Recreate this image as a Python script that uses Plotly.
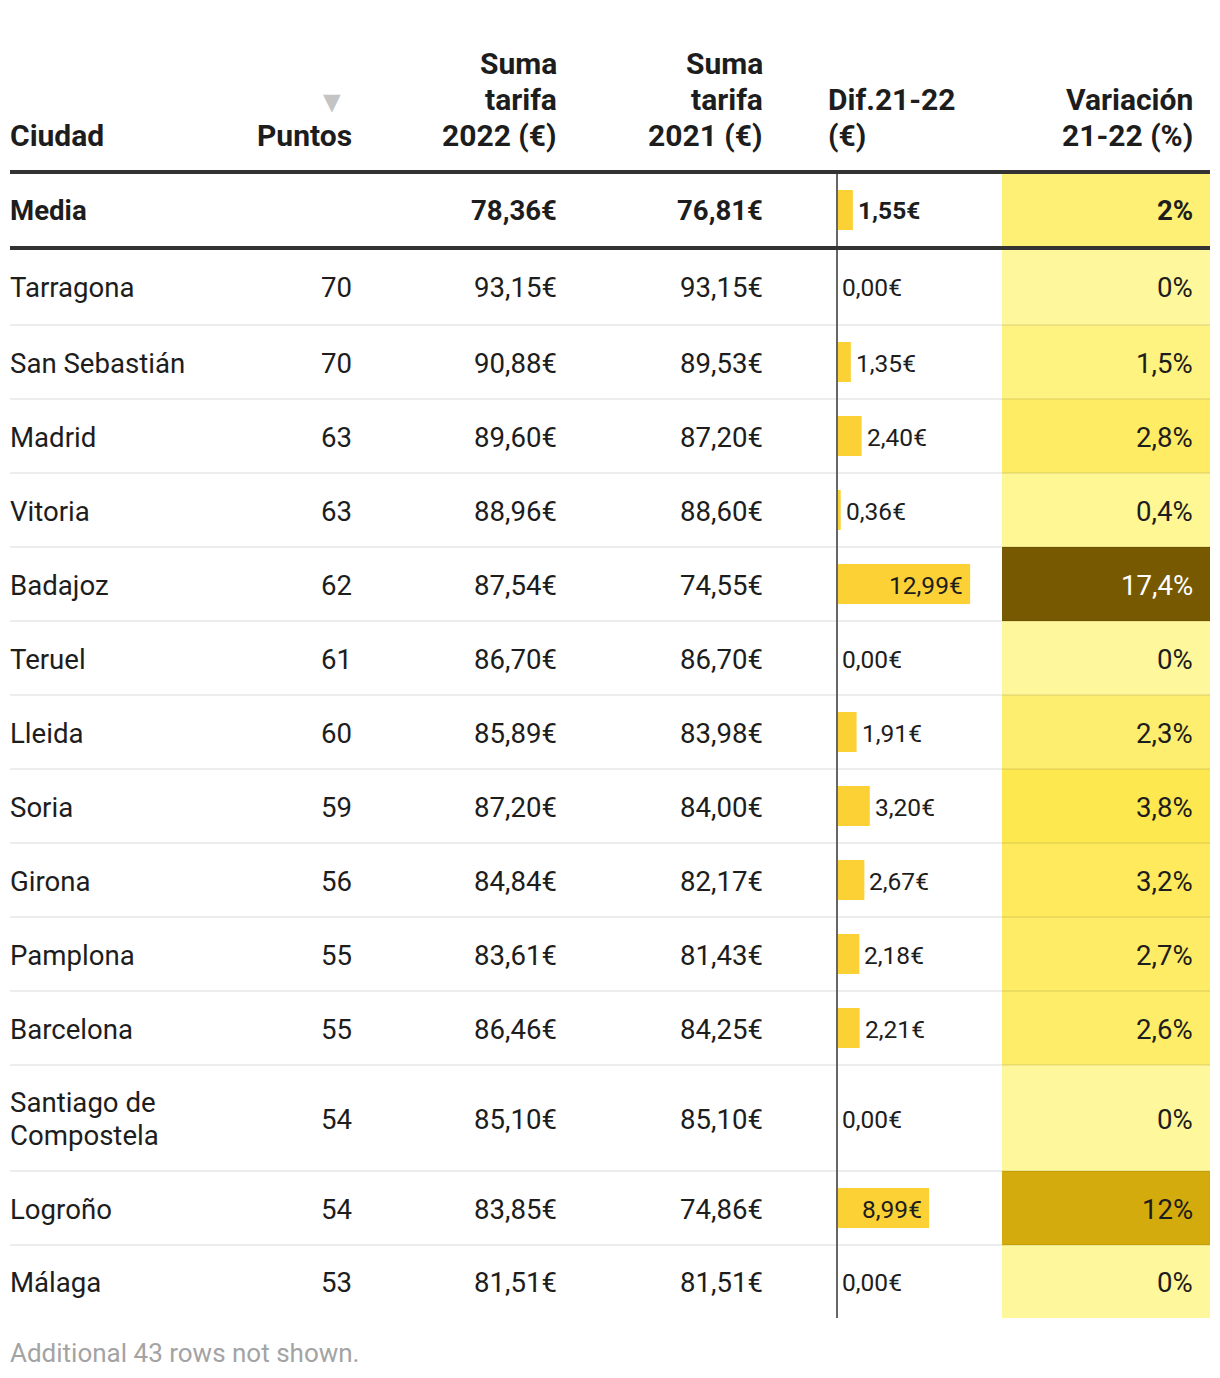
import plotly.graph_objects as go

# ---------------- data ----------------
cities = ["Tarragona", "San Sebastián", "Madrid", "Vitoria", "Badajoz", "Teruel",
          "Lleida", "Soria", "Girona", "Pamplona", "Barcelona",
          "Santiago de Compostela", "Logroño", "Málaga"]
puntos = [70, 70, 63, 63, 62, 61, 60, 59, 56, 55, 55, 54, 54, 53]
tarifa_2022 = [93.15, 90.88, 89.60, 88.96, 87.54, 86.70, 85.89, 87.20, 84.84,
               83.61, 86.46, 85.10, 83.85, 81.51]
tarifa_2021 = [93.15, 89.53, 87.20, 88.60, 74.55, 86.70, 83.98, 84.00, 82.17,
               81.43, 84.25, 85.10, 74.86, 81.51]
dif_21_22 = [0.00, 1.35, 2.40, 0.36, 12.99, 0.00, 1.91, 3.20, 2.67, 2.18, 2.21,
             0.00, 8.99, 0.00]
variacion = [0, 1.5, 2.8, 0.4, 17.4, 0, 2.3, 3.8, 3.2, 2.7, 2.6, 0, 12, 0]

media_label = "Media"
media_2022 = 78.36
media_2021 = 76.81
media_dif = 1.55
media_var = 2

headers = [["Ciudad"], ["Puntos"], ["Suma", "tarifa", "2022 (€)"],
           ["Suma", "tarifa", "2021 (€)"], ["Dif.21-22", "(€)"],
           ["Variación", "21-22 (%)"]]
footer_note = "Additional 43 rows not shown."

# ---------------- layout constants ----------------
W, H = 1220, 1378
FONT = "Roboto, 'Noto Sans', sans-serif"
TXT = "#1d1d1d"
BODY = 27.6
HEAD = 30
SMALL = 24.5
TABLE_TOP = 172
ROW_H = [76, 77] + [74] * 10 + [106, 74, 73]
LEFT, RIGHT = 10, 1210
COL_X = [(10, "left"), (352, "right"), (557, "right"), (763, "right"),
         (828, "left"), (1193, "right")]
BAR_X0, BAR_X1 = 837, 1002
BAR_RANGE = 16.1
VAR_X = [1002, 1210]

stops = [(0.0, (255, 247, 155)), (1.5, (254, 242, 128)), (2.8, (254, 236, 100)),
         (3.8, (254, 232, 80)), (12.0, (212, 171, 12)), (17.4, (118, 89, 0))]
ZMAX = 17.4
colorscale = [[v / ZMAX, "rgb(%d,%d,%d)" % c] for v, c in stops]


def eur(v):
    return f"{v:.2f}".replace(".", ",") + "€"


def pct(v):
    s = f"{v:.1f}".rstrip("0").rstrip(".")
    return s.replace(".", ",") + "%"


def wrap(name, width=16):
    words, lines, cur = name.split(" "), [], ""
    for w in words:
        if cur and len(cur) + 1 + len(w) > width:
            lines.append(cur)
            cur = w
        else:
            cur = (cur + " " + w).strip()
    lines.append(cur)
    return lines


def color_at(v):
    for (v0, c0), (v1, c1) in zip(stops[:-1], stops[1:]):
        if v <= v1:
            t = 0 if v1 == v0 else (v - v0) / (v1 - v0)
            return tuple(c0[i] + t * (c1[i] - c0[i]) for i in range(3))
    return stops[-1][1]


edges = [TABLE_TOP]
for h in ROW_H:
    edges.append(edges[-1] + h)
centers = [(a + b) / 2 for a, b in zip(edges[:-1], edges[1:])]

all_dif = [media_dif] + dif_21_22
all_var = [media_var] + variacion

fig = go.Figure()

# variation heat cells
fig.add_trace(go.Heatmap(
    z=[[v] for v in all_var], x=VAR_X, y=edges,
    colorscale=colorscale, zmin=0, zmax=ZMAX, showscale=False,
    hoverinfo="skip", xaxis="x", yaxis="y"))

# difference bars
fig.add_trace(go.Bar(
    x=all_dif, y=centers, orientation="h", width=40,
    marker=dict(color="#fbd135", line=dict(width=0)),
    hoverinfo="skip", xaxis="x2", yaxis="y"))

ann = []


def txt(x, y, s, anchor, size=BODY, color=TXT, bold=False, **kw):
    d = dict(x=x, y=y, xref="x", yref="y", text=("<b>%s</b>" % s) if bold else s,
             showarrow=False, xanchor=anchor, yanchor="middle",
             borderpad=0, borderwidth=0,
             font=dict(family=FONT, size=size, color=color))
    d.update(kw)
    ann.append(d)


# headers
for (x, anchor), lines in zip(COL_X, headers):
    n = len(lines)
    for k, line in enumerate(lines):
        y = 135 - 36 * (n - 1 - k)
        txt(x, y, line, anchor, size=HEAD, bold=True)
txt(332, 101, "▼", "center", size=30, color="#c4c4c4")

# media row
txt(COL_X[0][0], centers[0], media_label, "left", bold=True)
txt(COL_X[2][0], centers[0], eur(media_2022), "right", bold=True)
txt(COL_X[3][0], centers[0], eur(media_2021), "right", bold=True)

# body rows
LINE_GAP = 33
for i, city in enumerate(cities):
    y = centers[i + 1] + 1
    lines = wrap(city)
    for k, line in enumerate(lines):
        txt(COL_X[0][0], y + LINE_GAP * (k - (len(lines) - 1) / 2), line, "left")
    txt(COL_X[1][0], y, str(puntos[i]), "right")
    txt(COL_X[2][0], y, eur(tarifa_2022[i]), "right")
    txt(COL_X[3][0], y, eur(tarifa_2021[i]), "right")

# bar labels
for i, v in enumerate(all_dif):
    inside = v > 6
    s = eur(v)
    ann.append(dict(x=v, y=centers[i] + (0 if i == 0 else 1), xref="x2", yref="y",
                    text=("<b>%s</b>" % s) if i == 0 else s, showarrow=False,
                    xanchor="right" if inside else "left",
                    xshift=-7 if inside else 5, yanchor="middle",
                    borderpad=0, borderwidth=0,
                    font=dict(family=FONT, size=SMALL, color=TXT)))

# variation labels
for i, v in enumerate(all_var):
    c = color_at(v)
    lum = 0.299 * c[0] + 0.587 * c[1] + 0.114 * c[2]
    txt(COL_X[5][0], centers[i] + (0 if i == 0 else 1), pct(v), "right",
        color="#ffffff" if lum < 120 else TXT, bold=(i == 0))

# footer
txt(LEFT, 1353, footer_note, "left", size=26, color="#a3a3a3")

shapes = []
for e in edges[2:-1]:
    shapes.append(dict(type="line", xref="x", yref="y", x0=LEFT, x1=RIGHT, y0=e, y1=e,
                       line=dict(color="rgba(0,0,0,0.07)", width=2), layer="above"))
shapes.append(dict(type="line", xref="x", yref="y", x0=BAR_X0, x1=BAR_X0,
                   y0=edges[0], y1=edges[-1], line=dict(color="#666666", width=2),
                   layer="above"))
for e in edges[:2]:
    shapes.append(dict(type="line", xref="x", yref="y", x0=LEFT, x1=RIGHT, y0=e, y1=e,
                       line=dict(color="#333333", width=4), layer="above"))

fig.update_layout(
    width=W, height=H, margin=dict(l=0, r=0, t=0, b=0),
    paper_bgcolor="white", plot_bgcolor="white", showlegend=False,
    xaxis=dict(domain=[0, 1], range=[0, W], visible=False, fixedrange=True),
    xaxis2=dict(domain=[BAR_X0 / W, BAR_X1 / W], range=[0, BAR_RANGE],
                anchor="y", visible=False, fixedrange=True),
    yaxis=dict(domain=[0, 1], range=[H, 0], visible=False, fixedrange=True),
    annotations=ann, shapes=shapes,
)

fig.write_html("out.html", config={"displayModeBar": False},
               post_script="document.body.style.margin='0';")
